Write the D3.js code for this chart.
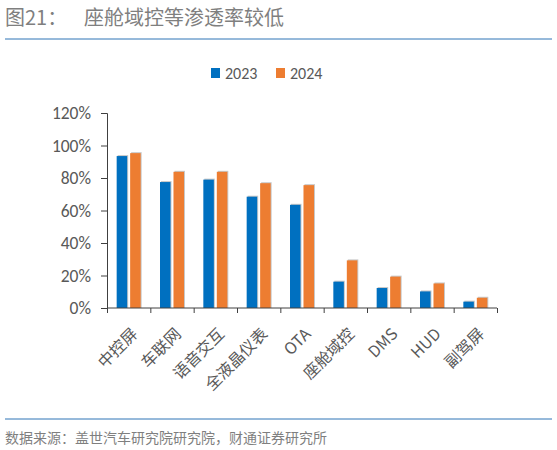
<!DOCTYPE html>
<html lang="zh">
<head>
<meta charset="UTF-8">
<title>座舱域控等渗透率较低</title>
<script src="https://d3js.org/d3.v7.min.js"></script>
<style>
    body {
        margin: 0;
        padding: 0;
        background: #ffffff;
        font-family: "Noto Sans CJK SC", "Noto Sans", sans-serif;
    }
    #chart svg {
        display: block;
    }
</style>
</head>
<body>
<div id="chart"></div>
<script>
    const categories = ["中控屏", "车联网", "语音交互", "全液晶仪表", "OTA", "座舱域控", "DMS", "HUD", "副驾屏"];
    const values2023 = [93.5, 77.5, 79, 68.5, 63.5, 16.2, 12.3, 10.2, 3.9];
    const values2024 = [95.3, 83.8, 83.8, 76.8, 75.6, 29.3, 19.3, 15.1, 6.3];
    const seriesNames = ["2023", "2024"];
    const seriesColors = ["#0070c0", "#ed7d31"];
    const yTicks = [0, 20, 40, 60, 80, 100, 120];

    const width = 557, height = 450;
    const margin = { left: 107, right: 60, top: 113, bottom: 142 };
    const latinFont = "Calibri, Carlito, 'Liberation Sans', sans-serif";

    const svg = d3.select("#chart").append("svg")
        .attr("width", width)
        .attr("height", height);

    // title and rules
    svg.append("text")
        .attr("x", 5)
        .attr("y", 25)
        .attr("fill", "#7f7f7f")
        .attr("font-size", 20)
        .text("图21：");
    svg.append("text")
        .attr("x", 84)
        .attr("y", 25)
        .attr("fill", "#7f7f7f")
        .attr("font-size", 20)
        .text("座舱域控等渗透率较低");
    svg.append("line")
        .attr("x1", 5).attr("x2", 552)
        .attr("y1", 39).attr("y2", 39)
        .attr("stroke", "#2e75b6").attr("stroke-width", 1);
    svg.append("line")
        .attr("x1", 5).attr("x2", 552)
        .attr("y1", 419).attr("y2", 419)
        .attr("stroke", "#2e75b6").attr("stroke-width", 1);
    svg.append("text")
        .attr("x", 5)
        .attr("y", 443)
        .attr("fill", "#7f7f7f")
        .attr("font-size", 14)
        .text("数据来源：盖世汽车研究院研究院，财通证券研究所");

    // legend
    const legendX = [211, 276];
    seriesNames.forEach((name, i) => {
        svg.append("rect")
            .attr("x", legendX[i]).attr("y", 68)
            .attr("width", 9).attr("height", 10)
            .attr("fill", seriesColors[i]);
        svg.append("text")
            .attr("x", legendX[i] + 14).attr("y", 78.5)
            .attr("fill", "#595959")
            .attr("font-size", 16)
            .attr("font-family", latinFont)
            .text(name);
    });

    const plotW = width - margin.left - margin.right;
    const plotH = height - margin.top - margin.bottom;

    const x = d3.scaleBand()
        .domain(categories)
        .range([0, plotW])
        .paddingInner(0)
        .paddingOuter(0);
    const x1 = d3.scaleBand()
        .domain(seriesNames)
        .range([x.bandwidth() / 2 - 12, x.bandwidth() / 2 + 12])
        .paddingInner(0.22);
    const y = d3.scaleLinear()
        .domain([0, 120])
        .range([plotH, 0]);

    const g = svg.append("g")
        .attr("transform", `translate(${margin.left},${margin.top})`);

    const data = categories.map((c, i) => ({
        cat: c,
        vals: [values2023[i], values2024[i]]
    }));

    const groups = g.selectAll(".cat")
        .data(data)
        .enter().append("g")
        .attr("transform", d => `translate(${x(d.cat)},0)`);

    // light shadow behind bars
    groups.selectAll(".shadow")
        .data(d => d.vals.map((v, i) => ({ s: seriesNames[i], v })))
        .enter().append("rect")
        .attr("x", d => x1(d.s) + 1)
        .attr("y", d => y(d.v) - 1)
        .attr("width", x1.bandwidth())
        .attr("height", d => plotH - y(d.v) + 1)
        .attr("fill", "#c8c8c8");

    groups.selectAll(".bar")
        .data(d => d.vals.map((v, i) => ({ s: seriesNames[i], v, i })))
        .enter().append("rect")
        .attr("x", d => x1(d.s))
        .attr("y", d => y(d.v))
        .attr("width", x1.bandwidth())
        .attr("height", d => plotH - y(d.v))
        .attr("fill", d => seriesColors[d.i]);

    // y axis
    const yAxis = g.append("g")
        .call(d3.axisLeft(y).tickValues(yTicks).tickSize(6).tickFormat(d => d + "%"));
    yAxis.select(".domain").attr("stroke", "#404040").attr("d", `M-6,0.5H0.5V${plotH}`);
    yAxis.selectAll(".tick line").attr("stroke", "#404040");
    yAxis.selectAll(".tick text")
        .attr("x", -16)
        .attr("fill", "#595959")
        .attr("font-size", 17.5)
        .attr("font-family", latinFont);

    // x axis with ticks at category boundaries
    const xAxis = g.append("g")
        .attr("transform", `translate(0,${plotH})`);
    xAxis.append("line")
        .attr("x1", 0).attr("x2", plotW)
        .attr("y1", 0).attr("y2", 0)
        .attr("stroke", "#404040");
    xAxis.selectAll(".xtick")
        .data(categories.concat([null]))
        .enter().append("line")
        .attr("x1", (d, i) => i * x.step() + 0.5)
        .attr("x2", (d, i) => i * x.step() + 0.5)
        .attr("y1", 0).attr("y2", 5)
        .attr("stroke", "#404040");
    xAxis.selectAll(".xlabel")
        .data(categories)
        .enter().append("text")
        .attr("transform", d => `translate(${x(d) + x.bandwidth() / 2 + 10},${27}) rotate(-45)`)
        .attr("text-anchor", "end")
        .attr("fill", "#595959")
        .attr("font-size", 16)
        .text(d => d);
</script>
</body>
</html>
